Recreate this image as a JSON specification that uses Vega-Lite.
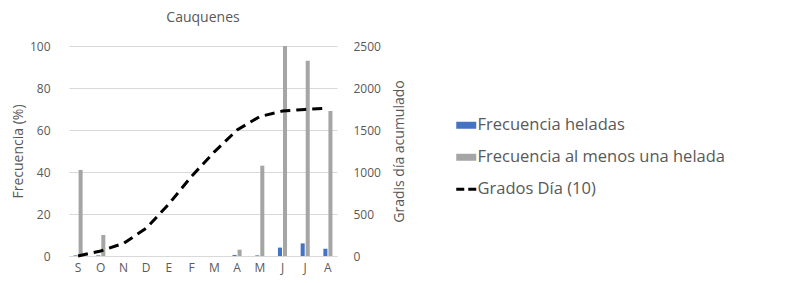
{
  "$schema": "https://vega.github.io/schema/vega-lite/v6.json",
  "width": 268,
  "height": 210,
  "padding": {"left": 11, "top": 11, "right": 5, "bottom": 5},
  "background": "white",
  "title": {"text": "Cauquenes", "fontSize": 14, "font": "Open Sans", "fontWeight": "normal", "color": "#595959", "offset": 15, "anchor": "middle"},
  "config": {
    "font": "Open Sans",
    "view": {"stroke": null},
    "axis": {"labelColor": "#595959", "titleColor": "#595959", "labelFontSize": 12, "titleFontSize": 14, "titleFontWeight": "normal", "ticks": false, "domain": false}
  },
  "datasets": {
    "barras": [
      {"mes": "Sep", "serie": "Frecuencia heladas", "valor": 0.3},
      {"mes": "Oct", "serie": "Frecuencia heladas", "valor": 0.3},
      {"mes": "Nov", "serie": "Frecuencia heladas", "valor": 0},
      {"mes": "Dic", "serie": "Frecuencia heladas", "valor": 0},
      {"mes": "Ene", "serie": "Frecuencia heladas", "valor": 0},
      {"mes": "Feb", "serie": "Frecuencia heladas", "valor": 0},
      {"mes": "Mar", "serie": "Frecuencia heladas", "valor": 0},
      {"mes": "Abr", "serie": "Frecuencia heladas", "valor": 0.5},
      {"mes": "May", "serie": "Frecuencia heladas", "valor": 0.3},
      {"mes": "Jun", "serie": "Frecuencia heladas", "valor": 4},
      {"mes": "Jul", "serie": "Frecuencia heladas", "valor": 6},
      {"mes": "Ago", "serie": "Frecuencia heladas", "valor": 3.5},
      {"mes": "Sep", "serie": "Frecuencia al menos una helada", "valor": 41},
      {"mes": "Oct", "serie": "Frecuencia al menos una helada", "valor": 10},
      {"mes": "Nov", "serie": "Frecuencia al menos una helada", "valor": 0},
      {"mes": "Dic", "serie": "Frecuencia al menos una helada", "valor": 0},
      {"mes": "Ene", "serie": "Frecuencia al menos una helada", "valor": 0},
      {"mes": "Feb", "serie": "Frecuencia al menos una helada", "valor": 0},
      {"mes": "Mar", "serie": "Frecuencia al menos una helada", "valor": 0},
      {"mes": "Abr", "serie": "Frecuencia al menos una helada", "valor": 3},
      {"mes": "May", "serie": "Frecuencia al menos una helada", "valor": 43},
      {"mes": "Jun", "serie": "Frecuencia al menos una helada", "valor": 100},
      {"mes": "Jul", "serie": "Frecuencia al menos una helada", "valor": 93},
      {"mes": "Ago", "serie": "Frecuencia al menos una helada", "valor": 69}
    ],
    "grados": [
      {"mes": "Sep", "serie": "Grados Día (10)", "gd": 0},
      {"mes": "Oct", "serie": "Grados Día (10)", "gd": 60},
      {"mes": "Nov", "serie": "Grados Día (10)", "gd": 150},
      {"mes": "Dic", "serie": "Grados Día (10)", "gd": 330},
      {"mes": "Ene", "serie": "Grados Día (10)", "gd": 620},
      {"mes": "Feb", "serie": "Grados Día (10)", "gd": 950},
      {"mes": "Mar", "serie": "Grados Día (10)", "gd": 1240},
      {"mes": "Abr", "serie": "Grados Día (10)", "gd": 1500},
      {"mes": "May", "serie": "Grados Día (10)", "gd": 1660},
      {"mes": "Jun", "serie": "Grados Día (10)", "gd": 1725},
      {"mes": "Jul", "serie": "Grados Día (10)", "gd": 1745},
      {"mes": "Ago", "serie": "Grados Día (10)", "gd": 1760}
    ]
  },
  "encoding": {
    "x": {
      "field": "mes",
      "type": "nominal",
      "sort": ["Sep", "Oct", "Nov", "Dic", "Ene", "Feb", "Mar", "Abr", "May", "Jun", "Jul", "Ago"],
      "scale": {"paddingInner": 0.6},
      "axis": {"title": null, "labelAngle": 0, "labelExpr": "substring(datum.label, 0, 1)", "labelPadding": 6, "domain": true, "domainColor": "#d9d9d9", "labelFontSize": 12}
    }
  },
  "layer": [
    {
      "data": {"name": "barras"},
      "mark": {"type": "bar"},
      "encoding": {
        "xOffset": {"field": "serie", "type": "nominal", "sort": ["Frecuencia heladas", "Frecuencia al menos una helada"], "scale": {"paddingInner": 0.2}},
        "y": {
          "field": "valor", "type": "quantitative",
          "scale": {"domain": [0, 100]},
          "axis": {"title": "Frecuencia (%)", "values": [0, 20, 40, 60, 80, 100], "gridColor": "#d9d9d9", "labelPadding": 19, "titlePadding": 4}
        },
        "color": {
          "field": "serie", "type": "nominal",
          "scale": {"domain": ["Frecuencia heladas", "Frecuencia al menos una helada", "Grados Día (10)"], "range": ["#4472C4", "#A5A5A5", "#000000"]},
          "legend": {
            "title": null, "orient": "none", "legendX": 389, "legendY": 71,
            "labelFontSize": 16.5, "labelColor": "#595959", "rowPadding": 15, "labelOffset": 3, "labelLimit": 0,
            "symbolSize": 400,
            "encode": {
              "symbols": {
                "update": {
                  "shape": {"signal": "datum.value === 'Grados Día (10)' ? 'M-1,0H1' : 'M-1,-0.35H1V0.35H-1Z'"},
                  "fill": {"signal": "datum.value === 'Grados Día (10)' ? 'transparent' : scale('color', datum.value)"},
                  "stroke": {"signal": "datum.value === 'Grados Día (10)' ? '#000000' : 'transparent'"},
                  "strokeWidth": {"signal": "datum.value === 'Grados Día (10)' ? 3 : 0"},
                  "strokeDash": {"signal": "datum.value === 'Grados Día (10)' ? [8, 4] : [0]"},
                  "opacity": {"value": 1}
                }
              }
            }
          }
        }
      }
    },
    {
      "data": {"name": "grados"},
      "mark": {"type": "line", "strokeWidth": 3, "strokeDash": [10, 6]},
      "encoding": {
        "y": {
          "field": "gd", "type": "quantitative",
          "scale": {"domain": [0, 2500]},
          "axis": {"title": "Gradis día acumulado", "orient": "right", "format": "d", "titleAngle": 270, "titleBaseline": "top", "values": [0, 500, 1000, 1500, 2000, 2500], "grid": false, "labelPadding": 16, "titlePadding": 12}
        },
        "color": {"field": "serie", "type": "nominal"}
      }
    }
  ],
  "resolve": {"scale": {"y": "independent"}}
}
